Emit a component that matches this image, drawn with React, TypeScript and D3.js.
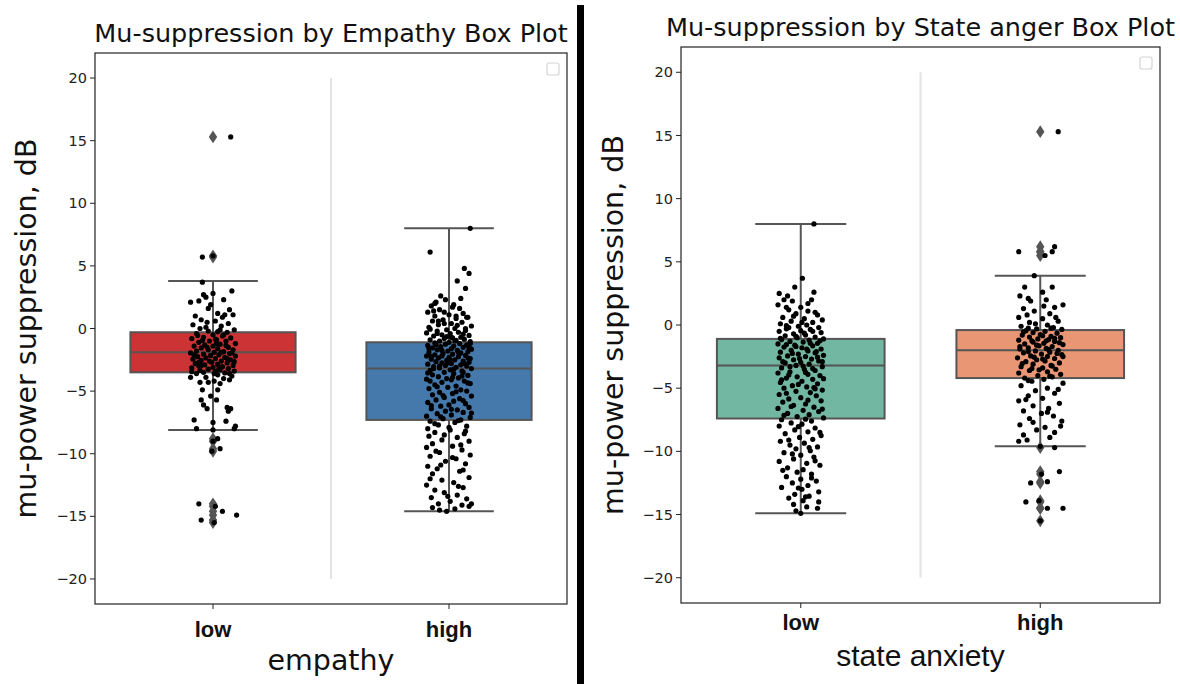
import React from "react";
import * as d3 from "d3";

const width = 1180;
const height = 684;

const categories = ["low", "high"];
const yTicks = [-20, -15, -10, -5, 0, 5, 10, 15, 20];

// box stats: [q1, median, q3, whiskerLow, whiskerHigh]
const empathyStats = [
  [-3.5, -1.9, -0.3, -8.1, 3.8],
  [-7.3, -3.2, -1.1, -14.6, 8.0]
];
const anxietyStats = [
  [-7.4, -3.2, -1.1, -14.9, 8.0],
  [-4.2, -2.0, -0.4, -9.6, 3.9]
];

const empathyColors = ["#cb3335", "#4579ab"];
const anxietyColors = ["#71b7a1", "#e99675"];

// points as [jitter (-1..1), value]
const empathyLow = [
  [0.75, 15.3], [-0.45, 5.7], [0.0, 5.8], [-0.45, 3.7], [0.8, 3.0], [0.0, 2.8], [-0.4, 2.7], [-0.95, 2.1],
  [-0.6, 2.2], [-0.3, 2.5], [0.45, 2.3], [0.7, 1.5], [-0.2, 1.6], [0.2, 1.2], [0.5, 1.1], [0.85, 1.1],
  [-0.75, 1.0], [-0.5, 0.7], [-0.25, 0.5], [0.1, 0.6], [0.65, 0.4], [-0.85, 0.3], [0.35, 0.2], [-0.55, 0.0],
  [0.9, -0.1], [-0.2, -0.2], [0.2, -0.25], [0.6, -0.3], [-0.7, -0.4], [0.0, -0.5], [0.4, -0.6], [-0.4, -0.7],
  [0.75, -0.75], [-0.9, -0.8], [0.15, -0.9], [-0.15, -1.0], [0.55, -1.0], [-0.6, -1.1], [0.95, -1.2], [0.3, -1.25],
  [-0.35, -1.3], [0.0, -1.4], [-0.8, -1.4], [0.65, -1.5], [-0.5, -1.55], [0.2, -1.6], [0.85, -1.7], [-0.2, -1.7],
  [-0.7, -1.8], [0.45, -1.85], [0.05, -1.9], [-0.95, -1.95], [0.7, -2.0], [-0.4, -2.05], [0.25, -2.1], [-0.1, -2.15],
  [0.95, -2.2], [-0.65, -2.25], [0.5, -2.3], [-0.3, -2.35], [0.1, -2.4], [-0.85, -2.45], [0.75, -2.5], [-0.5, -2.55],
  [0.35, -2.6], [-0.05, -2.7], [0.6, -2.75], [-0.75, -2.8], [0.2, -2.85], [-0.35, -2.9], [0.85, -2.95], [-0.6, -3.0],
  [0.4, -3.05], [0.0, -3.1], [-0.9, -3.15], [0.65, -3.2], [-0.2, -3.25], [0.3, -3.3], [-0.55, -3.35], [0.9, -3.4],
  [0.1, -3.45], [-0.4, -3.5], [0.5, -3.55], [-0.7, -3.6], [0.2, -3.7], [0.8, -3.8], [-0.3, -3.9], [0.45, -4.0],
  [-0.95, -3.9], [-0.55, -4.3], [-0.2, -4.3], [0.05, -4.2], [0.7, -4.1], [0.3, -4.4], [-0.45, -4.9], [0.2, -4.9],
  [-0.1, -5.4], [0.15, -5.7], [-0.5, -5.7], [-0.4, -6.1], [-0.25, -6.4], [0.6, -6.3], [0.75, -6.4], [0.65, -6.6],
  [-0.8, -7.3], [0.55, -7.4], [0.0, -7.5], [0.95, -7.8], [-0.7, -8.0], [0.9, -8.0], [0.0, -8.1],
  [0.3, -0.1], [-0.65, -0.55], [0.1, -0.85], [0.55, -1.35], [-0.25, -1.5], [0.35, -1.9], [-0.8, -2.1], [0.6, -2.4],
  [-0.15, -2.6], [0.9, -2.65], [-0.5, -2.95], [0.25, -3.2], [-0.9, -3.45], [0.7, -3.6], [-0.45, -0.95], [0.45, -0.5],
  [-0.3, 0.1], [0.15, -1.2], [0.8, -1.95], [-0.6, -2.7], [0.05, -3.6], [0.4, 0.9], [-0.1, 1.9],
  [0.2, -8.8], [0.0, -9.0], [0.3, -9.6], [-0.05, -9.8], [-0.6, -14.0], [0.4, -14.6], [1.0, -14.9], [-0.5, -15.3],
  [0.05, -15.5], [0.1, -14.2]
];

const empathyHigh = [
  [0.9, 8.0], [-0.8, 6.1], [0.65, 4.8], [0.85, 4.4], [0.35, 3.8], [0.7, 3.2], [-0.35, 2.6], [-0.15, 2.3],
  [-0.55, 2.1], [-0.75, 1.8], [0.2, 1.9], [0.45, 1.6], [-0.4, 1.5], [-0.9, 1.3], [0.6, 1.2], [0.0, 1.1],
  [-0.6, 1.0], [0.8, 0.9], [0.3, 0.8], [-0.25, 0.7], [-0.7, 0.6], [0.55, 0.5], [0.1, 0.4], [-0.45, 0.3],
  [0.95, 0.2], [-0.85, 0.1], [0.25, 0.0], [-0.1, -0.1], [0.7, -0.15], [-0.5, -0.2], [0.4, -0.3], [-0.95, -0.35],
  [0.05, -0.4], [-0.3, -0.5], [0.85, -0.55], [-0.65, -0.6], [0.5, -0.7], [0.15, -0.75], [-0.2, -0.8], [0.65, -0.85],
  [-0.8, -0.9], [0.3, -0.95], [-0.4, -1.0], [0.9, -1.05], [0.0, -1.1], [-0.6, -1.15], [0.45, -1.2], [-0.15, -1.25],
  [0.75, -1.3], [-0.9, -1.35], [0.2, -1.4], [-0.35, -1.45], [0.6, -1.5], [-0.7, -1.55], [0.1, -1.6], [0.95, -1.65],
  [-0.5, -1.7], [0.35, -1.75], [-0.05, -1.8], [0.8, -1.85], [-0.85, -1.9], [0.5, -1.95], [-0.25, -2.0], [0.15, -2.05],
  [-0.6, -2.1], [0.7, -2.15], [-0.95, -2.2], [0.4, -2.25], [0.0, -2.3], [-0.45, -2.35], [0.9, -2.4], [-0.75, -2.45],
  [0.25, -2.5], [-0.1, -2.55], [0.6, -2.6], [-0.55, -2.65], [0.85, -2.7], [-0.3, -2.75], [0.1, -2.8], [-0.9, -2.85],
  [0.5, -2.9], [-0.15, -2.95], [0.75, -3.0], [-0.65, -3.05], [0.3, -3.1], [-0.4, -3.15], [0.95, -3.2], [0.05, -3.3],
  [-0.8, -3.35], [0.55, -3.4], [-0.2, -3.5], [0.2, -3.6], [-0.7, -3.7], [0.8, -3.75], [-0.45, -3.85], [0.4, -3.95],
  [-0.95, -4.05], [0.1, -4.1], [0.65, -4.2], [-0.3, -4.3], [0.9, -4.4], [-0.6, -4.5], [0.3, -4.6], [-0.05, -4.7],
  [-0.85, -4.8], [0.5, -4.9], [0.75, -5.0], [-0.4, -5.1], [0.15, -5.2], [-0.7, -5.3], [0.95, -5.4], [-0.2, -5.5],
  [0.45, -5.6], [-0.55, -5.7], [0.2, -5.8], [-0.9, -5.9], [0.7, -6.0], [0.0, -6.1], [-0.35, -6.2], [0.85, -6.3],
  [-0.75, -6.4], [0.35, -6.5], [-0.15, -6.6], [0.6, -6.7], [-0.5, -6.8], [0.1, -6.9], [-0.95, -7.0], [0.9, -7.1],
  [-0.25, -7.2], [0.5, -7.3], [-0.8, -7.4], [0.25, -7.5], [-0.45, -7.7], [0.75, -7.8], [-0.9, -8.0], [0.05, -8.1],
  [-0.6, -8.3], [0.65, -8.4], [-0.85, -8.6], [0.35, -8.7], [-0.3, -8.9], [0.85, -9.0], [-0.7, -9.2], [0.15, -9.4],
  [-0.95, -9.5], [0.55, -9.7], [-0.4, -9.9], [0.9, -10.1], [-0.8, -10.2], [0.3, -10.4], [-0.15, -10.6], [0.7, -10.8],
  [-0.9, -11.0], [-0.5, -11.2], [0.45, -11.4], [-0.7, -11.6], [0.85, -11.9], [-0.3, -12.1], [0.2, -12.3], [-0.95, -12.5],
  [0.6, -12.7], [-0.6, -12.9], [-0.2, -13.1], [0.35, -13.3], [-0.75, -13.5], [0.75, -13.6], [0.05, -13.8], [-0.45, -14.0],
  [0.95, -14.0], [-0.7, -14.3], [-0.4, -14.5], [0.25, -14.4], [-0.1, -14.6], [0.85, -14.2],
  [0.5, 2.4], [-0.6, 2.0], [0.15, 1.7], [-0.2, 1.3], [0.75, 0.9], [-0.45, 0.6], [0.35, 0.25], [-0.8, -0.05],
  [0.6, -0.45], [-0.1, -0.65], [0.25, -1.0], [-0.55, -1.3], [0.85, -1.55], [-0.3, -1.75], [0.45, -2.0], [-0.75, -2.25],
  [0.05, -2.5], [0.65, -2.8], [-0.4, -3.0], [0.2, -3.25], [-0.9, -3.55], [0.55, -3.8], [-0.1, -4.0], [0.8, -4.35],
  [-0.5, -4.65], [0.3, -5.05], [-0.25, -5.35], [0.6, -5.75], [-0.75, -6.15], [0.1, -6.45], [0.95, -6.75], [-0.35, -7.05],
  [0.4, -7.35], [-0.6, -7.6], [0.0, -7.9], [0.7, -8.2], [-0.2, -8.5], [0.5, -9.3], [-0.55, -9.8], [0.15, -10.3],
  [-0.35, -10.9], [0.6, -11.3], [-0.8, -12.0], [0.4, -12.6], [-0.05, -13.4], [0.55, -14.1],
  [-0.65, 1.4], [0.3, 1.0], [-0.2, 0.4], [0.7, 0.0], [-0.5, -0.4], [0.1, -0.7], [0.9, -1.2], [-0.85, -1.6],
  [0.4, -1.9], [-0.3, -2.2], [0.8, -2.35], [-0.05, -2.75], [-0.65, -3.2], [0.6, -3.5], [0.15, -3.9], [-0.8, -4.2]
];

const anxietyLow = [
  [0.55, 8.0], [0.07, 3.7], [-0.25, 3.0], [-0.9, 2.5], [0.55, 2.6], [-0.55, 2.3], [-0.7, 2.0], [0.45, 2.0],
  [-0.35, 1.9], [-0.95, 1.6], [0.0, 1.4], [-0.5, 1.2], [0.3, 1.1], [-0.2, 0.9], [0.7, 0.8], [-0.75, 0.6],
  [0.15, 0.5], [0.9, 0.4], [-0.4, 0.3], [0.5, 0.2], [-0.85, 0.1], [0.25, 0.0], [-0.1, -0.1], [0.75, -0.2],
  [-0.6, -0.3], [0.4, -0.35], [0.0, -0.45], [-0.9, -0.5], [0.85, -0.6], [-0.3, -0.7], [0.2, -0.8], [-0.65, -0.85],
  [0.6, -0.95], [-0.15, -1.0], [0.95, -1.1], [-0.8, -1.15], [0.35, -1.2], [-0.45, -1.3], [0.1, -1.35], [0.7, -1.45],
  [-0.95, -1.5], [-0.25, -1.6], [0.5, -1.65], [-0.7, -1.75], [0.05, -1.8], [0.85, -1.9], [-0.4, -2.0], [0.3, -2.05],
  [-0.85, -2.15], [0.6, -2.2], [-0.1, -2.3], [0.95, -2.4], [-0.55, -2.45], [0.2, -2.5], [-0.9, -2.6], [0.45, -2.7],
  [-0.3, -2.75], [0.75, -2.85], [0.0, -2.95], [-0.65, -3.0], [0.35, -3.1], [-0.2, -3.2], [0.9, -3.3], [-0.8, -3.4],
  [0.15, -3.5], [0.6, -3.6], [-0.45, -3.7], [-0.95, -3.8], [0.3, -3.9], [0.8, -4.0], [-0.15, -4.1], [-0.6, -4.2],
  [0.5, -4.3], [0.05, -4.45], [-0.85, -4.55], [0.7, -4.65], [-0.35, -4.8], [0.25, -4.9], [-0.7, -5.0], [0.9, -5.15],
  [-0.2, -5.25], [0.4, -5.35], [-0.9, -5.5], [0.65, -5.6], [0.0, -5.75], [-0.5, -5.85], [0.85, -6.0], [-0.75, -6.1],
  [0.2, -6.25], [-0.3, -6.35], [0.55, -6.5], [-0.95, -6.6], [0.1, -6.75], [0.75, -6.85], [-0.55, -7.0], [0.35, -7.1],
  [-0.15, -7.25], [0.95, -7.35], [-0.8, -7.5], [0.45, -7.6], [-0.4, -7.75], [0.05, -7.85], [-0.9, -8.0], [0.6, -8.15],
  [-0.25, -8.3], [0.3, -8.45], [-0.65, -8.6], [0.85, -8.75], [-0.05, -8.9], [0.5, -9.05], [-0.85, -9.2], [0.15, -9.35],
  [-0.45, -9.5], [0.7, -9.65], [-0.2, -9.8], [0.4, -9.95], [-0.7, -10.1], [0.0, -10.3], [0.55, -10.45], [-0.3, -10.6],
  [-0.9, -10.8], [0.25, -10.95], [0.8, -11.1], [-0.55, -11.3], [0.1, -11.45], [-0.15, -11.65], [0.45, -11.8], [-0.6, -12.0],
  [0.0, -12.2], [0.65, -12.35], [-0.35, -12.5], [0.3, -12.7], [-0.8, -12.85], [0.05, -13.0], [0.75, -13.2], [-0.25, -13.4],
  [0.35, -13.55], [-0.5, -13.7], [0.1, -13.9], [0.75, -14.0], [-0.3, -14.2], [0.25, -14.4], [-0.2, -14.7], [0.7, -14.5],
  [0.0, -14.9],
  [0.3, 1.7], [-0.6, 1.4], [0.6, 1.0], [-0.3, 0.7], [0.05, 0.2], [-0.5, -0.2], [0.5, -0.5], [-0.2, -0.9],
  [0.8, -1.25], [-0.6, -1.55], [0.25, -1.9], [-0.35, -2.25], [0.7, -2.55], [-0.75, -2.9], [0.1, -3.25], [0.5, -3.45],
  [-0.5, -3.95], [0.95, -4.25], [-0.1, -4.7], [0.6, -5.05], [-0.6, -5.4], [0.3, -5.95], [-0.4, -6.45], [0.9, -6.65],
  [-0.7, -7.15], [0.2, -7.45], [-0.1, -8.05], [0.8, -8.5], [-0.5, -9.1], [0.35, -9.7], [-0.35, -10.2], [0.6, -10.75],
  [-0.75, -11.5], [0.45, -12.1], [-0.1, -12.9], [0.2, -13.6], [-0.6, -0.05], [0.15, -0.65], [-0.85, -1.05], [0.4, -1.45],
  [-0.2, -1.7], [0.65, -2.1], [-0.05, -2.65], [0.9, -2.9], [-0.45, -3.3], [0.2, -3.75], [-0.8, -4.35], [0.55, -4.95]
];

const anxietyHigh = [
  [0.75, 15.3], [-0.9, 5.8], [0.6, 6.2], [0.5, 5.8], [0.2, 5.5], [-0.25, 3.9], [-0.65, 3.0], [0.5, 3.0],
  [0.1, 2.6], [-0.85, 2.3], [-0.5, 2.1], [0.25, 2.0], [0.95, 1.6], [0.6, 1.4], [-0.7, 1.3], [-0.25, 1.1],
  [0.4, 0.9], [-0.9, 0.6], [0.1, 0.5], [0.75, 0.3], [-0.45, 0.2], [0.3, 0.0], [-0.8, -0.1], [0.55, -0.2],
  [-0.15, -0.3], [0.9, -0.35], [-0.6, -0.45], [0.2, -0.5], [-0.3, -0.6], [0.7, -0.65], [0.0, -0.75], [-0.75, -0.8],
  [0.45, -0.9], [-0.45, -0.95], [0.85, -1.0], [-0.1, -1.1], [0.35, -1.15], [-0.9, -1.2], [0.6, -1.3], [-0.3, -1.35],
  [0.15, -1.45], [-0.65, -1.5], [0.95, -1.55], [-0.05, -1.65], [0.5, -1.7], [-0.5, -1.8], [0.25, -1.85], [-0.85, -1.9],
  [0.75, -2.0], [-0.2, -2.05], [0.4, -2.15], [-0.7, -2.2], [0.05, -2.3], [0.9, -2.35], [-0.4, -2.45], [0.3, -2.5],
  [-0.95, -2.6], [0.6, -2.65], [-0.15, -2.75], [0.2, -2.85], [-0.6, -2.9], [0.8, -3.0], [-0.3, -3.1], [0.45, -3.2],
  [-0.8, -3.3], [0.1, -3.4], [0.65, -3.5], [-0.45, -3.6], [0.3, -3.7], [-0.9, -3.8], [0.85, -3.9], [-0.1, -4.0],
  [0.5, -4.1], [-0.65, -4.2], [0.15, -4.3], [-0.35, -4.45], [0.95, -4.6], [-0.8, -4.8], [0.3, -5.0], [-0.2, -5.2],
  [0.6, -5.4], [-0.5, -5.6], [0.1, -5.8], [-0.9, -6.0], [0.8, -6.2], [-0.3, -6.4], [0.35, -6.6], [-0.7, -6.8],
  [0.05, -7.0], [0.55, -7.2], [-0.45, -7.4], [0.9, -7.6], [-0.85, -7.9], [0.2, -8.1], [-0.15, -8.3], [0.6, -8.5],
  [-0.7, -8.7], [0.4, -8.9], [-0.55, -9.1], [-0.9, -9.2], [0.6, -9.7], [0.0, -9.6],
  [-0.4, 1.9], [0.15, 1.5], [-0.55, 0.8], [0.65, 0.6], [-0.2, 0.1], [0.45, -0.25], [-0.7, -0.55], [0.1, -0.85],
  [0.6, -1.05], [-0.35, -1.25], [0.8, -1.4], [-0.15, -1.6], [0.35, -1.95], [-0.5, -2.1], [0.7, -2.25], [-0.25, -2.55],
  [0.1, -2.7], [-0.75, -3.05], [0.5, -3.25], [-0.05, -3.55], [0.4, -4.05], [-0.5, -4.4], [0.75, -5.1], [-0.6, -5.9],
  [0.3, -6.9], [-0.3, -7.7], [0.85, -8.0], [-0.5, -0.25], [0.25, -1.25], [-0.85, -1.7], [0.95, -2.5], [-0.35, -3.45],
  [0.8, -11.6], [-0.4, -12.5], [0.3, -12.4], [-0.6, -14.0], [0.95, -14.5], [0.3, -14.5], [0.0, -15.5], [0.05, -11.8],
  [-0.05, -13.9]
];

type Pt = number[];

interface PanelProps {
  title: string;
  xLabel: string;
  xLabelFont: string;
  xLabelSize: number;
  frame: { left: number; right: number; top: number; bottom: number };
  stats: number[][];
  colors: string[];
  groups: Pt[][];
  yLabelX: number;
  tickLabelDy: number;
  xLabelDy: number;
}

const edge = "#555555";

function Panel(props: PanelProps) {
  const { title, xLabel, xLabelFont, xLabelSize, frame, stats, colors, groups, yLabelX, tickLabelDy, xLabelDy } = props;
  const x = d3.scaleLinear().domain([-0.5, 1.5]).range([frame.left, frame.right]);
  const y = d3.scaleLinear().domain([-22, 22]).range([frame.bottom, frame.top]);
  const boxHalf = 0.35;
  const capHalf = 0.19;
  const jitter = 0.1;
  const cx = (frame.left + frame.right) / 2;
  const diamond = d3.symbol().type(d3.symbolDiamond2).size(80);

  return (
    <g>
      <text x={cx} y={frame.top - 11} textAnchor="middle" fontFamily="DejaVu Sans" fontSize={25.5} fill="#111">
        {title}
      </text>
      {/* grey separator line between the groups */}
      <line x1={x(0.5)} x2={x(0.5)} y1={y(20)} y2={y(-20)} stroke="#e3e3e3" strokeWidth={2} />
      {stats.map((s, i) => {
        const [q1, med, q3, wLo, wHi] = s;
        const c = x(i);
        const pts = groups[i];
        const outliers = pts.filter(p => p[1] > wHi || p[1] < wLo);
        return (
          <g key={i}>
            <line x1={c} x2={c} y1={y(q3)} y2={y(wHi)} stroke={edge} strokeWidth={2} />
            <line x1={c} x2={c} y1={y(q1)} y2={y(wLo)} stroke={edge} strokeWidth={2} />
            <line x1={x(i - capHalf)} x2={x(i + capHalf)} y1={y(wHi)} y2={y(wHi)} stroke={edge} strokeWidth={2} />
            <line x1={x(i - capHalf)} x2={x(i + capHalf)} y1={y(wLo)} y2={y(wLo)} stroke={edge} strokeWidth={2} />
            <rect
              x={x(i - boxHalf)}
              y={y(q3)}
              width={x(i + boxHalf) - x(i - boxHalf)}
              height={y(q1) - y(q3)}
              fill={colors[i]}
              stroke={edge}
              strokeWidth={2}
            />
            <line x1={x(i - boxHalf)} x2={x(i + boxHalf)} y1={y(med)} y2={y(med)} stroke={edge} strokeWidth={2} />
            {outliers.map((p, k) => (
              <path key={"o" + k} d={diamond() || ""} transform={`translate(${c},${y(p[1])}) scale(0.75,1.15)`} fill={edge} />
            ))}
            {pts.map((p, k) => (
              <circle key={k} cx={x(i + p[0] * jitter)} cy={y(p[1])} r={2.6} fill="#000" />
            ))}
          </g>
        );
      })}
      <rect x={frame.left} y={frame.top} width={frame.right - frame.left} height={frame.bottom - frame.top} fill="none" stroke="#222" strokeWidth={1.2} />
      {/* empty legend box */}
      <rect x={frame.right - 20} y={frame.top + 10} width={12} height={12} rx={2} fill="#fff" stroke="#d4d4d4" strokeWidth={1.2} />
      {yTicks.map(t => (
        <g key={t}>
          <line x1={frame.left - 5} x2={frame.left} y1={y(t)} y2={y(t)} stroke="#222" strokeWidth={1} />
          <text x={frame.left - 8} y={y(t)} dy="0.35em" textAnchor="end" fontFamily="DejaVu Sans" fontSize={14.5} fill="#222">
            {t < 0 ? "\u2212" + Math.abs(t) : t}
          </text>
        </g>
      ))}
      {categories.map((c, i) => (
        <g key={c}>
          <line x1={x(i)} x2={x(i)} y1={frame.bottom} y2={frame.bottom + 5} stroke="#222" strokeWidth={1} />
          <text x={x(i)} y={frame.bottom + tickLabelDy} textAnchor="middle" fontFamily="Liberation Sans" fontWeight="bold" fontSize={22} fill="#111">
            {c}
          </text>
        </g>
      ))}
      <text x={cx} y={frame.bottom + xLabelDy} textAnchor="middle" fontFamily={xLabelFont} fontSize={xLabelSize} fill="#111">
        {xLabel}
      </text>
      <text
        transform={`translate(${yLabelX},${(frame.top + frame.bottom) / 2}) rotate(-90)`}
        textAnchor="middle"
        fontFamily="DejaVu Sans"
        fontSize={28.5}
        fill="#111"
      >
        mu-power suppression, dB
      </text>
    </g>
  );
}

export default function App() {
  return (
    <svg width={width} height={height} style={{ position: "absolute", left: 0, top: 0, background: "#fff" }}>
      <rect width={width} height={height} fill="#fff" />
      <Panel
        title="Mu-suppression by Empathy Box Plot"
        xLabel="empathy"
        xLabelFont="DejaVu Sans"
        xLabelSize={28.5}
        frame={{ left: 95, right: 567, top: 53, bottom: 604 }}
        stats={empathyStats}
        colors={empathyColors}
        groups={[empathyLow, empathyHigh]}
        yLabelX={36}
        tickLabelDy={33}
        xLabelDy={66}
      />
      <Panel
        title="Mu-suppression by State anger Box Plot"
        xLabel="state anxiety"
        xLabelFont="Liberation Sans"
        xLabelSize={30}
        frame={{ left: 681, right: 1160, top: 47, bottom: 603 }}
        stats={anxietyStats}
        colors={anxietyColors}
        groups={[anxietyLow, anxietyHigh]}
        yLabelX={623}
        tickLabelDy={27}
        xLabelDy={63}
      />
      {/* black divider between the two images */}
      <rect x={577} y={5} width={7} height={679} fill="#000" />
    </svg>
  );
}
